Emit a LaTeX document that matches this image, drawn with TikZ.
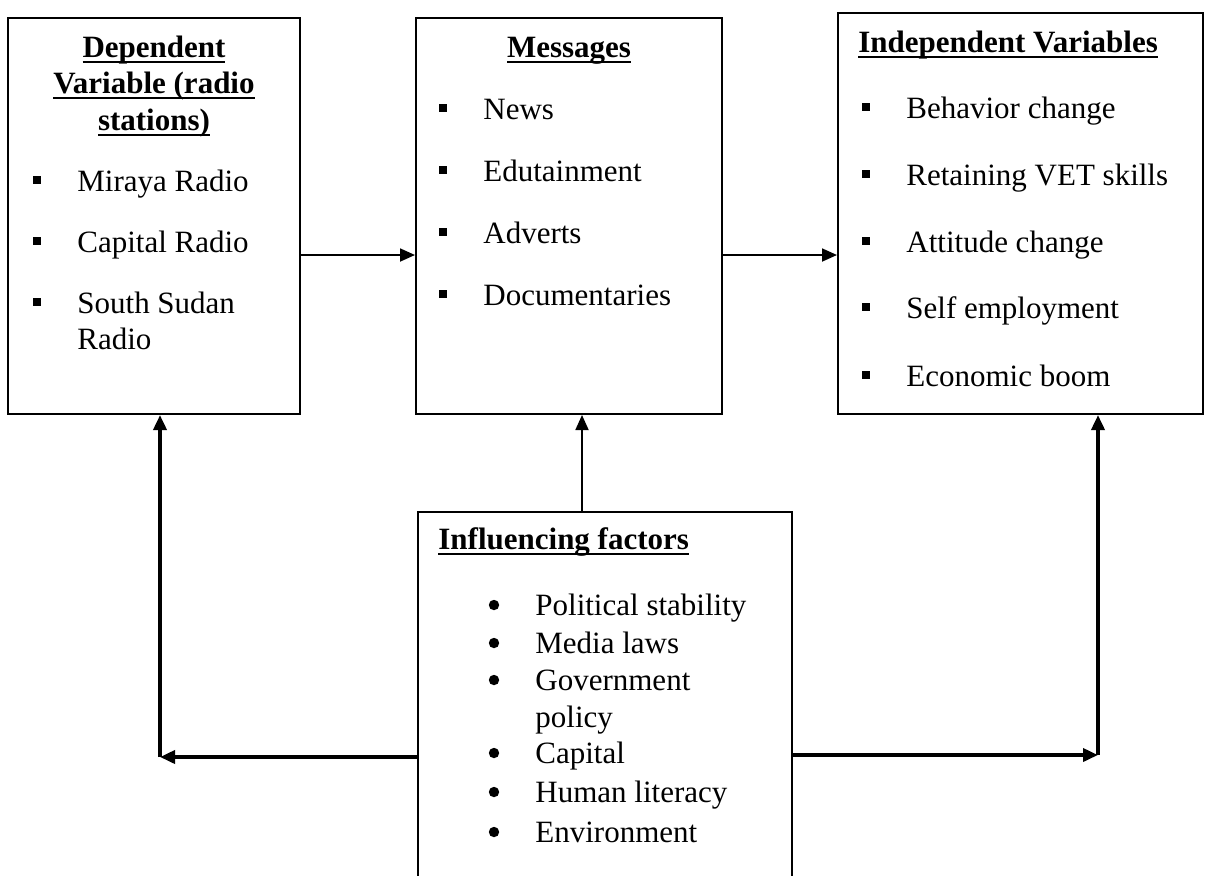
\documentclass[tikz,border=0pt]{standalone}
\usepackage{fontspec}
\setmainfont{Liberation Serif}
\usetikzlibrary{arrows.meta}

\newcommand{\sqb}{\makebox[22pt][l]{\raisebox{3.6pt}{\rule{4pt}{4pt}}}}
\newcommand{\ttl}[1]{\textbf{\setbox0\hbox{#1}\rlap{\rule[-2.8pt]{\wd0}{0.9pt}}\box0}}

\begin{document}
\begin{tikzpicture}[x=0.5pt,y=-0.5pt,>={Triangle[length=7.5pt,width=6.5pt]},
        font=\fontsize{15.5}{18}\selectfont,
        box/.style={draw,line width=1pt,inner sep=0pt},
        itm/.style={anchor=base west,inner sep=0pt},
        hd/.style={anchor=base,inner sep=0pt},
        link/.style={->,line width=0.9pt},
        biglink/.style={->,line width=1.8pt}]
                \clip (0,0) rectangle (1205,875);

                % the four boxes
                \node[box,minimum width=146pt,minimum height=198pt] (dep) at (154,216) {};
                \node[box,minimum width=153pt,minimum height=198pt] (msg) at (569,216) {};
                \node[box,minimum width=182.5pt,minimum height=200.5pt] (ind) at (1020.5,213.5) {};
                \node[box,minimum width=187pt,minimum height=210pt] (inf) at (605,722) {};

                % dependent variable
                \node[hd] (dep1) at (154,57) {\ttl{Dependent}};
                \node[hd] (dep2) at (154,93) {\ttl{Variable (radio}};
                \node[hd] (dep3) at (154,130) {\ttl{stations)}};
                \node[itm] (depa) at (33,191) {\sqb Miraya Radio};
                \node[itm] (depb) at (33,252) {\sqb Capital Radio};
                \node[itm] (depc) at (33,313) {\sqb South Sudan};
                \node[itm] (depd) at (77,349) {Radio};

                % messages
                \node[hd] (msg0) at (569,57) {\ttl{Messages}};
                \node[itm] (msga) at (439,119) {\sqb News};
                \node[itm] (msgb) at (439,181) {\sqb Edutainment};
                \node[itm] (msgc) at (439,243) {\sqb Adverts};
                \node[itm] (msgd) at (439,305) {\sqb Documentaries};

                % independent variables
                \node[itm] (ind0) at (858,52) {\ttl{Independent Variables}};
                \node[itm] (inda) at (862,118) {\sqb Behavior change};
                \node[itm] (indb) at (862,185) {\sqb Retaining VET skills};
                \node[itm] (indc) at (862,252) {\sqb Attitude change};
                \node[itm] (indd) at (862,318) {\sqb Self employment};
                \node[itm] (inde) at (862,386) {\sqb Economic boom};

                % influencing factors
                \node[itm] (inf0) at (438,549) {\ttl{Influencing factors}};
                \node[itm] (infa) at (535,615) {Political stability};
                \node[itm] (infb) at (535,653) {Media laws};
                \node[itm] (infc) at (535,690) {Government};
                \node[itm] (infd) at (535,727) {policy};
                \node[itm] (infe) at (535,763) {Capital};
                \node[itm] (inff) at (535,802) {Human literacy};
                \node[itm] (infg) at (535,842) {Environment};
                \foreach \y in {615,653,690,763,802,842}
                    \fill (494,{\y-10}) circle (2.6pt);

                % connectors
                \coordinate (toprow) at (0,255);
                \coordinate (upx) at (582,0);
                \coordinate (lcorner) at (160,757);
                \coordinate (rcorner) at (1098,755);

                \draw[link] (dep.east |- toprow) -- (msg.west |- toprow);
                \draw[link] (msg.east |- toprow) -- (ind.west |- toprow);
                \draw[link] (inf.north -| upx) -- (msg.south -| upx);

                \draw[biglink] (inf.west |- lcorner) -- (lcorner);
                \draw[biglink] (lcorner) -- (dep.south -| lcorner);
                \draw[biglink] (inf.east |- rcorner) -- (rcorner);
                \draw[biglink] (rcorner) -- (ind.south -| rcorner);
            \end{tikzpicture}
\end{document}
